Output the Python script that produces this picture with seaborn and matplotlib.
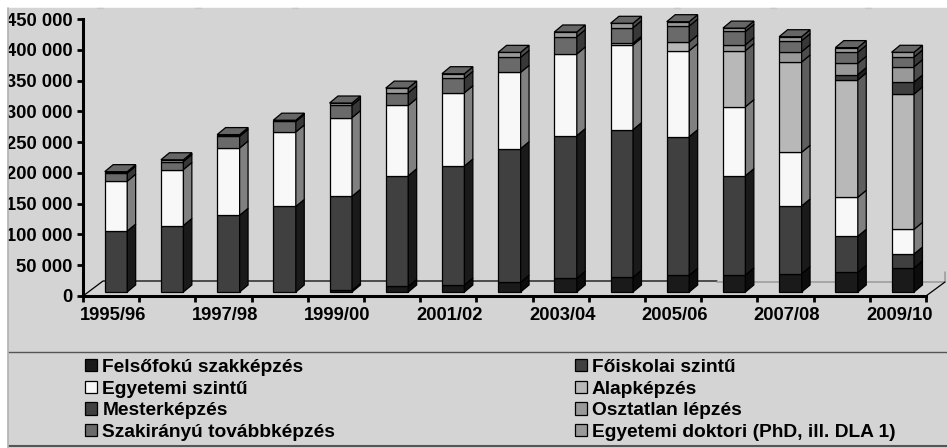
import seaborn as sns
from matplotlib import pyplot as plt
from matplotlib.lines import Line2D
from matplotlib.patches import Patch, Polygon, Rectangle
import numpy as np
import pandas as pd

years = ['1995/96', '1996/97', '1997/98', '1998/99', '1999/00', '2000/01', '2001/02', '2002/03',
         '2003/04', '2004/05', '2005/06', '2006/07', '2007/08', '2008/09', '2009/10']

felsofoku = [0, 0, 0, 0, 2800, 9000, 11400, 15800, 22300, 23900, 27100, 27600, 29700, 32000, 39000]
foiskolai = [99000, 108000, 124600, 139000, 152700, 179800, 193300, 217000, 231700, 239800, 225200, 161300, 110000, 58500, 22700]
egyetemi = [81000, 91000, 109300, 121000, 127800, 114200, 119000, 124000, 132700, 137600, 139700, 112100, 87200, 63400, 40100]
alap = [0, 0, 0, 0, 0, 0, 0, 0, 0, 2800, 14100, 91000, 146700, 190600, 219800]
mester = [0, 0, 0, 0, 0, 0, 0, 0, 0, 0, 0, 0, 0, 8600, 19500]
osztatlan = [0, 0, 0, 0, 0, 0, 0, 0, 0, 0, 0, 9700, 16700, 18500, 24900]
szakiranyu = [13000, 13000, 19000, 17000, 20000, 20600, 23400, 24400, 28100, 25300, 26000, 21600, 17900, 17900, 15800]
doktori = [2500, 2800, 2800, 2100, 3700, 7600, 7500, 8100, 7600, 7100, 7000, 5400, 6500, 7500, 7600]

names = ['Felsőfokú szakképzés', 'Főiskolai szintű', 'Egyetemi szintű', 'Alapképzés',
         'Mesterképzés', 'Osztatlan lépzés', 'Szakirányú továbbképzés', 'Egyetemi doktori (PhD, ill. DLA 1)']
series = [felsofoku, foiskolai, egyetemi, alap, mester, osztatlan, szakiranyu, doktori]
front = ['#1a1a1a', '#404040', '#f8f8f8', '#b8b8b8', '#404040', '#999999', '#6a6a6a', '#999999']
side = ['#0c0c0c', '#1a1a1a', '#808080', '#5e5e5e', '#1f1f1f', '#4d4d4d', '#383838', '#4d4d4d']
top = ['#141414', '#303030', '#c0c0c0', '#8c8c8c', '#303030', '#707070', '#505050', '#666666']

yticks = np.arange(0, 450001, 50000)
W, H = 947, 448
BG = '#d4d4d4'

sns.set_style('white')
plt.rcParams['font.family'] = ['Liberation Sans']
plt.rcParams['font.weight'] = 'bold'

fig = plt.figure(figsize=(W / 100, H / 100), dpi=100, facecolor='white')


def fx(x):
    return x / W


def fy(y):
    return 1 - y / H


def fig_line(xs, ys, color='black', lw=1.0, zorder=-1):
    fig.add_artist(Line2D([fx(v) for v in xs], [fy(v) for v in ys], color=color, lw=lw, zorder=zorder))


# panel behind the chart, the white margin goes over the clipped labels
fig.add_artist(Rectangle((fx(7), 0), 1, fy(8.5), color=BG, zorder=-3))
fig.add_artist(Rectangle((0, 0), fx(7), 1, color='white', zorder=5))
fig_line([7.5, 7.5], [8.5, 448], color='#b0b0b0', lw=1.2, zorder=5)
for gx in [100, 198, 295, 677, 773, 868]:
    fig_line([gx - 3, gx + 3], [8, 8], color='#c8c8c8', lw=1, zorder=-2)

# floor of the 3d box
fig_line([83, 103, 717], [296, 281, 281], lw=0.9)
fig_line([717, 945, 945], [281.5, 281.5, 272], color='#999999', lw=1.1)
fig_line([926, 945], [296, 282], lw=0.9)

# legend rules
fig_line([8, 947], [352, 352], color='#555555', lw=1.0)
fig_line([8, 947], [445.5, 445.5], color='#555555', lw=1.5)

ax = fig.add_axes([fx(83), fy(296), (926 - 83) / W, 277 / H])
ax.patch.set_alpha(0)

base = 6500  # bars stand a bit behind the axis line
bottom = np.full(len(years), float(base))
for name, vals, col in zip(names, series, front):
    df = pd.DataFrame({'year': years, 'value': vals})
    n0 = len(ax.patches)
    sns.barplot(data=df, x='year', y='value', color=col, saturation=1, width=0.4, bottom=bottom,
                edgecolor='black', linewidth=0.9, order=years, errorbar=None, ax=ax)
    for p in ax.patches[n0:]:
        if p.get_height() <= 0:
            p.set_visible(False)
    bottom = bottom + np.array(vals)

# side and top faces taken from the seaborn bars
dx, dy = 0.15, 11400
npatch = len(years)
for s in range(len(series)):
    for i in range(npatch):
        p = ax.patches[s * npatch + i]
        if not p.get_visible():
            continue
        x0, y0, w, h = p.get_x(), p.get_y(), p.get_width(), p.get_height()
        x1 = x0 + w
        ax.add_patch(Polygon([(x1, y0), (x1 + dx, y0 + dy), (x1 + dx, y0 + h + dy), (x1, y0 + h)],
                             fc=side[s], ec='black', lw=0.9, clip_on=False))
        if s == len(series) - 1:
            y1 = y0 + h
            ax.add_patch(Polygon([(x0, y1), (x1, y1), (x1 + dx, y1 + dy), (x0 + dx, y1 + dy)],
                                 fc=top[s], ec='black', lw=0.9, clip_on=False))

ax.set_xlim(-0.587, 14.413)
ax.set_ylim(0, 450000)
ax.set_xlabel('')
ax.set_ylabel('')
sns.despine(ax=ax)
for sp in ['left', 'bottom']:
    ax.spines[sp].set_linewidth(2.2)
    ax.spines[sp].set_color('black')

ax.set_yticks(yticks)
ax.set_yticklabels([f'{v:,}'.replace(',', ' ') for v in yticks], fontsize=13.2, fontweight='bold')
ax.set_xticks(np.arange(-0.587, 14.5, 1))
ax.set_xticklabels([])
label_pos = np.arange(0, 15, 2) - 0.06
ax.set_xticks(label_pos, labels=years[::2], minor=True, fontsize=13.2, fontweight='bold')
ax.tick_params(axis='both', which='major', length=4.3, width=2, color='black', left=True, bottom=True)
ax.tick_params(axis='y', pad=3, labelcolor='black')
ax.tick_params(axis='x', which='minor', length=0, pad=8, labelcolor='black', bottom=False)

handles = [Patch(fc=c, ec='black', lw=0.9) for c in front]
order = [0, 2, 4, 6, 1, 3, 5, 7]
fig.legend([handles[i] for i in order], [names[i] for i in order], ncol=2, frameon=False,
           loc='upper left', bbox_to_anchor=(fx(72), fy(345.5)), fontsize=13.8,
           handlelength=0.62, handleheight=0.62, handletextpad=0.27,
           labelspacing=0.24, columnspacing=12.5, borderpad=0.2, labelcolor='black')

fig.savefig('out.png', dpi=100)
